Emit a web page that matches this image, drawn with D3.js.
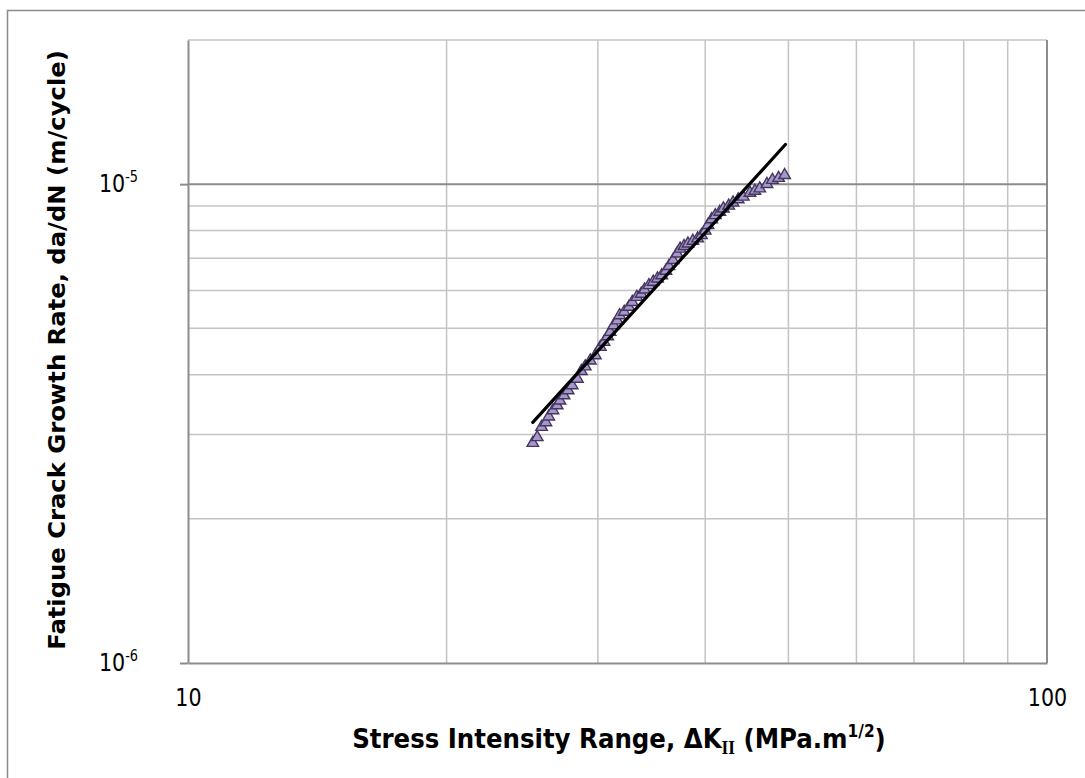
<!DOCTYPE html>
<html>
<head>
<meta charset="utf-8">
<script src="https://cdn.jsdelivr.net/npm/d3@7"></script>
<style>
  body { margin: 0; background: #fff; }
  svg { display: block; }
</style>
</head>
<body>
<svg id="chart" width="1085" height="778"></svg>
<script>
// Mode II fatigue crack growth: measured rates and power-law (Paris) fit
const stressRange = [
  25.2, 25.5, 25.8, 26.1, 26.3, 26.6, 26.9, 27.1, 27.4, 27.7,
  28.0, 28.4, 28.7, 29.0, 29.4, 29.8, 30.2, 30.5, 30.8, 31.0,
  31.3, 31.6, 31.8, 32.2, 32.6, 32.9, 33.3, 33.7, 34.0, 34.4,
  34.8, 35.2, 35.6, 36.0, 36.3, 36.7, 37.1, 37.4, 37.8, 38.2,
  38.7, 39.2, 39.6, 40.0, 40.3, 40.7, 41.1, 41.6, 42.0, 42.6,
  43.1, 43.7, 44.3, 45.1, 45.7, 46.3, 47.2, 47.9, 48.7, 49.5
];
const growthRate = [
  2.88e-6, 2.96e-6, 3.11e-6, 3.18e-6, 3.27e-6, 3.37e-6, 3.45e-6, 3.53e-6, 3.62e-6, 3.71e-6,
  3.80e-6, 3.92e-6, 4.07e-6, 4.16e-6, 4.28e-6, 4.39e-6, 4.57e-6, 4.68e-6, 4.81e-6, 4.91e-6,
  5.07e-6, 5.19e-6, 5.32e-6, 5.41e-6, 5.54e-6, 5.67e-6, 5.81e-6, 5.90e-6, 6.02e-6, 6.15e-6,
  6.25e-6, 6.35e-6, 6.45e-6, 6.59e-6, 6.74e-6, 6.94e-6, 7.16e-6, 7.33e-6, 7.42e-6, 7.51e-6,
  7.61e-6, 7.70e-6, 7.82e-6, 7.99e-6, 8.21e-6, 8.44e-6, 8.61e-6, 8.75e-6, 8.89e-6, 9.01e-6,
  9.15e-6, 9.29e-6, 9.41e-6, 9.59e-6, 9.68e-6, 9.79e-6, 1.00e-5, 1.02e-5, 1.03e-5, 1.044e-5
];
// Trend line end points
const fitRange = [25.2, 49.6];
const fitRate = [3.18e-6, 1.21e-5];

// Axes
const xTicks = [10, 100];
const xTickText = ['10', '100'];
const yTicks = [1e-6, 1e-5];
const yTickExp = ['-6', '-5'];
const xMinorGrid = [20, 30, 40, 50, 60, 70, 80, 90];
const yMinorGrid = [2e-6, 3e-6, 4e-6, 5e-6, 6e-6, 7e-6, 8e-6, 9e-6, 2e-5];
const xMajorGrid = [100];
const yMajorGrid = [1e-5];

const svg = d3.select('#chart');
const plotLeft = 188, plotRight = 1047, plotTop = 40, plotBottom = 663;

const x = d3.scaleLog().domain([10, 100]).range([plotLeft, plotRight]);
const y = d3.scaleLog().domain([1e-6, 2e-5]).range([plotBottom, plotTop]);

const FONT = '"DejaVu Sans", Verdana, sans-serif';

// outer frame
svg.append('rect')
  .attr('x', 7.5).attr('y', 10.5)
  .attr('width', 1100).attr('height', 800)
  .attr('fill', 'none').attr('stroke', '#8a8a8a').attr('stroke-width', 1.5);

// grid
const grid = svg.append('g');
grid.selectAll('.xmin').data(xMinorGrid).join('line')
  .attr('x1', d => x(d)).attr('x2', d => x(d))
  .attr('y1', plotTop).attr('y2', plotBottom)
  .attr('stroke', '#c4c4c4').attr('stroke-width', 1.5);
grid.selectAll('.ymin').data(yMinorGrid).join('line')
  .attr('x1', plotLeft).attr('x2', plotRight)
  .attr('y1', d => y(d)).attr('y2', d => y(d))
  .attr('stroke', '#c4c4c4').attr('stroke-width', 1.5);
grid.selectAll('.xmaj').data(xMajorGrid).join('line')
  .attr('x1', d => x(d)).attr('x2', d => x(d))
  .attr('y1', plotTop).attr('y2', plotBottom)
  .attr('stroke', '#8c8c8c').attr('stroke-width', 2);
grid.selectAll('.ymaj').data(yMajorGrid).join('line')
  .attr('x1', plotLeft).attr('x2', plotRight)
  .attr('y1', d => y(d)).attr('y2', d => y(d))
  .attr('stroke', '#8c8c8c').attr('stroke-width', 2);

// y axis with outward major ticks
const yAxis = svg.append('g')
  .attr('transform', `translate(${plotLeft},0)`)
  .call(d3.axisLeft(y).tickValues(yTicks).tickSize(8).tickSizeOuter(0).tickFormat(''));
yAxis.select('.domain').attr('stroke', '#8c8c8c').attr('stroke-width', 2);
yAxis.selectAll('.tick line').attr('stroke', '#8c8c8c').attr('stroke-width', 2);

// x axis
const xAxis = svg.append('g')
  .attr('transform', `translate(0,${plotBottom})`)
  .call(d3.axisBottom(x).tickValues(xTicks).tickSize(0).tickSizeOuter(0)
    .tickFormat((d, i) => xTickText[i]));
xAxis.select('.domain').attr('stroke', '#8c8c8c').attr('stroke-width', 2);
xAxis.selectAll('.tick text')
  .attr('y', 0).attr('dy', null)
  .attr('transform', 'translate(0,43) scale(0.86,1)')
  .attr('font-family', FONT).attr('font-size', 24).attr('fill', '#000');

// y tick labels: 10^n
yTicks.forEach((v, i) => {
  const t = svg.append('text')
    .attr('text-anchor', 'end')
    .attr('transform', `translate(138,${y(v) + 8}) scale(0.86,1)`)
    .attr('font-family', FONT).attr('font-size', 24).attr('fill', '#000');
  t.append('tspan').text('10');
  t.append('tspan').attr('font-size', 15).attr('dy', -10).text(yTickExp[i]);
});

// data points
const points = stressRange.map((k, i) => ({ k, v: growthRate[i] }));
svg.append('g').selectAll('path').data(points).join('path')
  .attr('transform', d => `translate(${x(d.k)},${y(d.v)})`)
  .attr('d', d3.symbol(d3.symbolTriangle, 58))
  .attr('fill', '#a696cb').attr('stroke', '#45365f').attr('stroke-width', 1.4);

// fitted power law
const fitData = fitRange.map((k, i) => ({ k, v: fitRate[i] }));
svg.append('path')
  .datum(fitData)
  .attr('d', d3.line().x(d => x(d.k)).y(d => y(d.v)))
  .attr('fill', 'none').attr('stroke', '#000').attr('stroke-width', 3.2)
  .attr('stroke-linecap', 'round');

// horizontal scale factor that makes text span a given length
function fit(sel, target) {
  const w = sel.node().getBBox().width;
  return target / w;
}

// x title
const xt = svg.append('text')
  .attr('text-anchor', 'middle')
  .attr('font-family', FONT).attr('font-weight', 'bold')
  .attr('font-size', 27).attr('fill', '#000');
xt.append('tspan').text('Stress Intensity Range, ΔK');
xt.append('tspan').attr('font-family', '"Liberation Serif", serif').attr('font-size', 19).attr('dy', 6).text('II');
xt.append('tspan').attr('dy', -6).text(' (MPa.m');
xt.append('tspan').attr('font-size', 17).attr('dy', -11).text('1/2');
xt.append('tspan').attr('dy', 11).text(')');
const sx = fit(xt, 534);
xt.attr('transform', `translate(619,748) scale(${sx},1)`);

// y title
const yt = svg.append('text')
  .attr('text-anchor', 'middle')
  .attr('font-family', FONT).attr('font-weight', 'bold')
  .attr('font-size', 23.5).attr('fill', '#000')
  .text('Fatigue Crack Growth Rate, da/dN (m/cycle)');
const sy = fit(yt, 600);
yt.attr('transform', `translate(65,350) rotate(-90) scale(${sy},1)`);
</script>
</body>
</html>
